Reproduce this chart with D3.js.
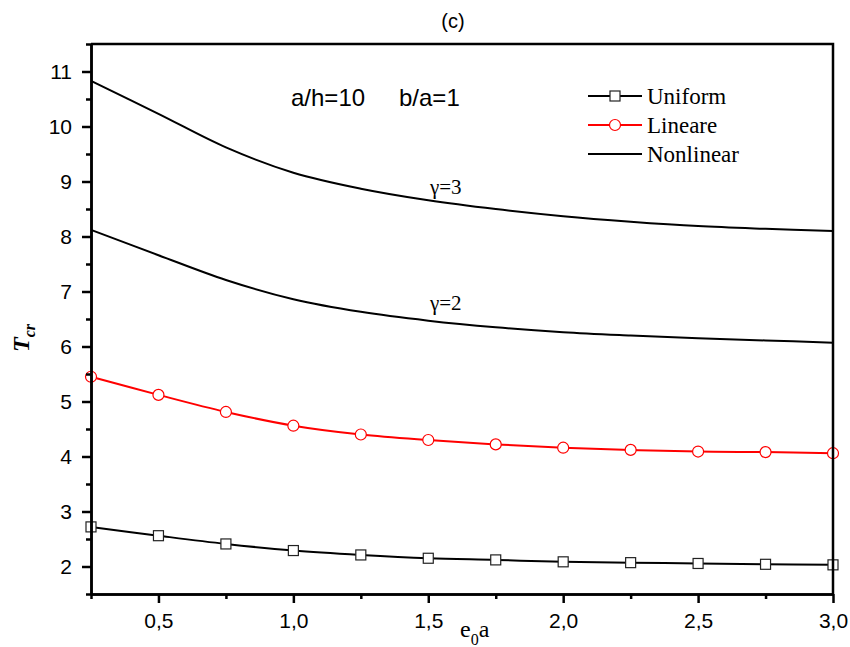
<!DOCTYPE html>
<html>
<head>
<meta charset="utf-8">
<script src="https://cdn.jsdelivr.net/npm/d3@7"></script>
<style>
  body { margin: 0; background: #fff; }
  .tick text { font-family: Arial, "Liberation Sans", sans-serif; font-size: 21px; fill: #000; }
  .serif { font-family: "Times New Roman", "Liberation Serif", serif; }
  .sans { font-family: Arial, "Liberation Sans", sans-serif; }
</style>
</head>
<body>
<svg id="chart" width="850" height="647"></svg>
<script>
// Values (e0a on x, Tcr on y).
var xValues = [0.25, 0.5, 0.75, 1.0, 1.25, 1.5, 1.75, 2.0, 2.25, 2.5, 2.75, 3.0];
var uniform = [2.72, 2.56, 2.41, 2.29, 2.21, 2.15, 2.12, 2.085, 2.07, 2.055, 2.04, 2.03];
var lineare = [5.45, 5.12, 4.81, 4.56, 4.40, 4.30, 4.22, 4.16, 4.12, 4.09, 4.08, 4.06];
var nonlinearG2 = [8.12, 7.66, 7.21, 6.86, 6.63, 6.47, 6.35, 6.26, 6.20, 6.15, 6.11, 6.07];
var nonlinearG3 = [10.83, 10.23, 9.62, 9.16, 8.87, 8.66, 8.50, 8.37, 8.27, 8.19, 8.14, 8.10];

// Tick values.
var xTicks = [0.5, 1.0, 1.5, 2.0, 2.5, 3.0];
var xMinorTicks = [0.25, 0.75, 1.25, 1.75, 2.25, 2.75];
var yTicks = [2, 3, 4, 5, 6, 7, 8, 9, 10, 11];
var yMinorTicks = [1.5, 2.5, 3.5, 4.5, 5.5, 6.5, 7.5, 8.5, 9.5, 10.5, 11.5];

// Legend entries.
var legendLabels = ['Uniform', 'Lineare', 'Nonlinear'];

// Plot box.
var margin = { left: 91, top: 44, right: 17, bottom: 53 };
var width = 850 - margin.left - margin.right;
var height = 647 - margin.top - margin.bottom;

var svg = d3.select('#chart');
var g = svg.append('g').attr('transform', 'translate(' + margin.left + ',' + margin.top + ')');

var x = d3.scaleLinear().domain([0.25, 3.0]).range([0, width]);
var y = d3.scaleLinear().domain([1.5, 11.5]).range([height, 0]);

// Decimal comma for the x labels.
var fmt = d3.formatLocale({ decimal: ',', thousands: '.', grouping: [3], currency: ['', ''] }).format('.1f');

// Series lines.
var line = d3.line()
  .x(function(d) { return x(d[0]); })
  .y(function(d) { return y(d[1]); })
  .curve(d3.curveCatmullRom.alpha(0.5));

function pairs(values) {
  return xValues.map(function(v, i) { return [v, values[i]]; });
}

[nonlinearG3, nonlinearG2].forEach(function(s) {
  g.append('path').datum(pairs(s))
    .attr('d', line).attr('fill', 'none')
    .attr('stroke', '#000').attr('stroke-width', 2);
});

g.append('path').datum(pairs(lineare))
  .attr('d', line).attr('fill', 'none')
  .attr('stroke', '#ff0000').attr('stroke-width', 2);

g.append('path').datum(pairs(uniform))
  .attr('d', line).attr('fill', 'none')
  .attr('stroke', '#000').attr('stroke-width', 2);

// Markers.
g.selectAll('.circ').data(pairs(lineare)).enter().append('circle')
  .attr('cx', function(d) { return x(d[0]); })
  .attr('cy', function(d) { return y(d[1]); })
  .attr('r', 5.5).attr('fill', '#fff')
  .attr('stroke', '#ff0000').attr('stroke-width', 1.2);

g.selectAll('.sq').data(pairs(uniform)).enter().append('rect')
  .attr('x', function(d) { return x(d[0]) - 5; })
  .attr('y', function(d) { return y(d[1]) - 5; })
  .attr('width', 10).attr('height', 10).attr('fill', '#fff')
  .attr('stroke', '#222').attr('stroke-width', 1.2);

// Frame (top and right sides).
g.append('path')
  .attr('d', 'M0,0H' + width + 'V' + height)
  .attr('fill', 'none').attr('stroke', '#000').attr('stroke-width', 2.5);

// Axes, major and minor.
function styleAxis(sel) {
  sel.selectAll('path, line').attr('stroke', '#000').attr('stroke-width', 2.5);
}

g.append('g').attr('transform', 'translate(0,' + height + ')')
  .call(d3.axisBottom(x).tickValues(xMinorTicks).tickSize(5).tickFormat('').tickSizeOuter(0))
  .call(styleAxis);
g.append('g').attr('transform', 'translate(0,' + height + ')')
  .call(d3.axisBottom(x).tickValues(xTicks).tickSize(9).tickPadding(10).tickFormat(fmt).tickSizeOuter(0))
  .call(styleAxis);

g.append('g')
  .call(d3.axisLeft(y).tickValues(yMinorTicks).tickSize(5).tickFormat('').tickSizeOuter(0))
  .call(styleAxis);
g.append('g')
  .call(d3.axisLeft(y).tickValues(yTicks).tickSize(9).tickPadding(10).tickFormat(d3.format('d')).tickSizeOuter(0))
  .call(styleAxis);

// Axis titles.
var xLabel = svg.append('text').attr('class', 'serif')
  .attr('x', 460).attr('y', 637).attr('font-size', 24);
xLabel.append('tspan').text('e');
xLabel.append('tspan').attr('font-size', 16).attr('dy', 8).text('0');
xLabel.append('tspan').attr('dy', -8).text('a');

var yLabel = svg.append('text').attr('class', 'serif')
  .attr('transform', 'translate(29,352) rotate(-90)')
  .attr('font-weight', 'bold').attr('font-style', 'italic').attr('font-size', 24);
yLabel.append('tspan').text('T');
yLabel.append('tspan').attr('font-size', 16).attr('dy', 6).text('cr');

// Title and annotations.
svg.append('text').attr('class', 'sans')
  .attr('x', 453).attr('y', 28).attr('text-anchor', 'middle')
  .attr('font-size', 20).text('(c)');

svg.append('text').attr('class', 'sans')
  .attr('x', 291).attr('y', 106).attr('font-size', 24).text('a/h=10');
svg.append('text').attr('class', 'sans')
  .attr('x', 399).attr('y', 106).attr('font-size', 24).text('b/a=1');

svg.append('text').attr('class', 'serif')
  .attr('x', 430).attr('y', 194).attr('font-size', 21).text('\u03b3=3');
svg.append('text').attr('class', 'serif')
  .attr('x', 430).attr('y', 310).attr('font-size', 21).text('\u03b3=2');

// Legend.
var legend = svg.append('g').attr('transform', 'translate(588,96)');
var rowGap = 29;
legendLabels.forEach(function(label, i) {
  var row = legend.append('g').attr('transform', 'translate(0,' + (i * rowGap) + ')');
  var color = i === 1 ? '#ff0000' : '#000';
  row.append('line').attr('x1', 0).attr('x2', 54).attr('y1', 0).attr('y2', 0)
    .attr('stroke', color).attr('stroke-width', 2);
  if (i === 0) {
    row.append('rect').attr('x', 22).attr('y', -5).attr('width', 10).attr('height', 10)
      .attr('fill', '#fff').attr('stroke', '#222').attr('stroke-width', 1.2);
  } else if (i === 1) {
    row.append('circle').attr('cx', 27).attr('cy', 0).attr('r', 5.5)
      .attr('fill', '#fff').attr('stroke', '#ff0000').attr('stroke-width', 1.2);
  }
  row.append('text').attr('class', 'serif')
    .attr('x', 59).attr('y', 8).attr('font-size', 23).text(label);
});
</script>
</body>
</html>
